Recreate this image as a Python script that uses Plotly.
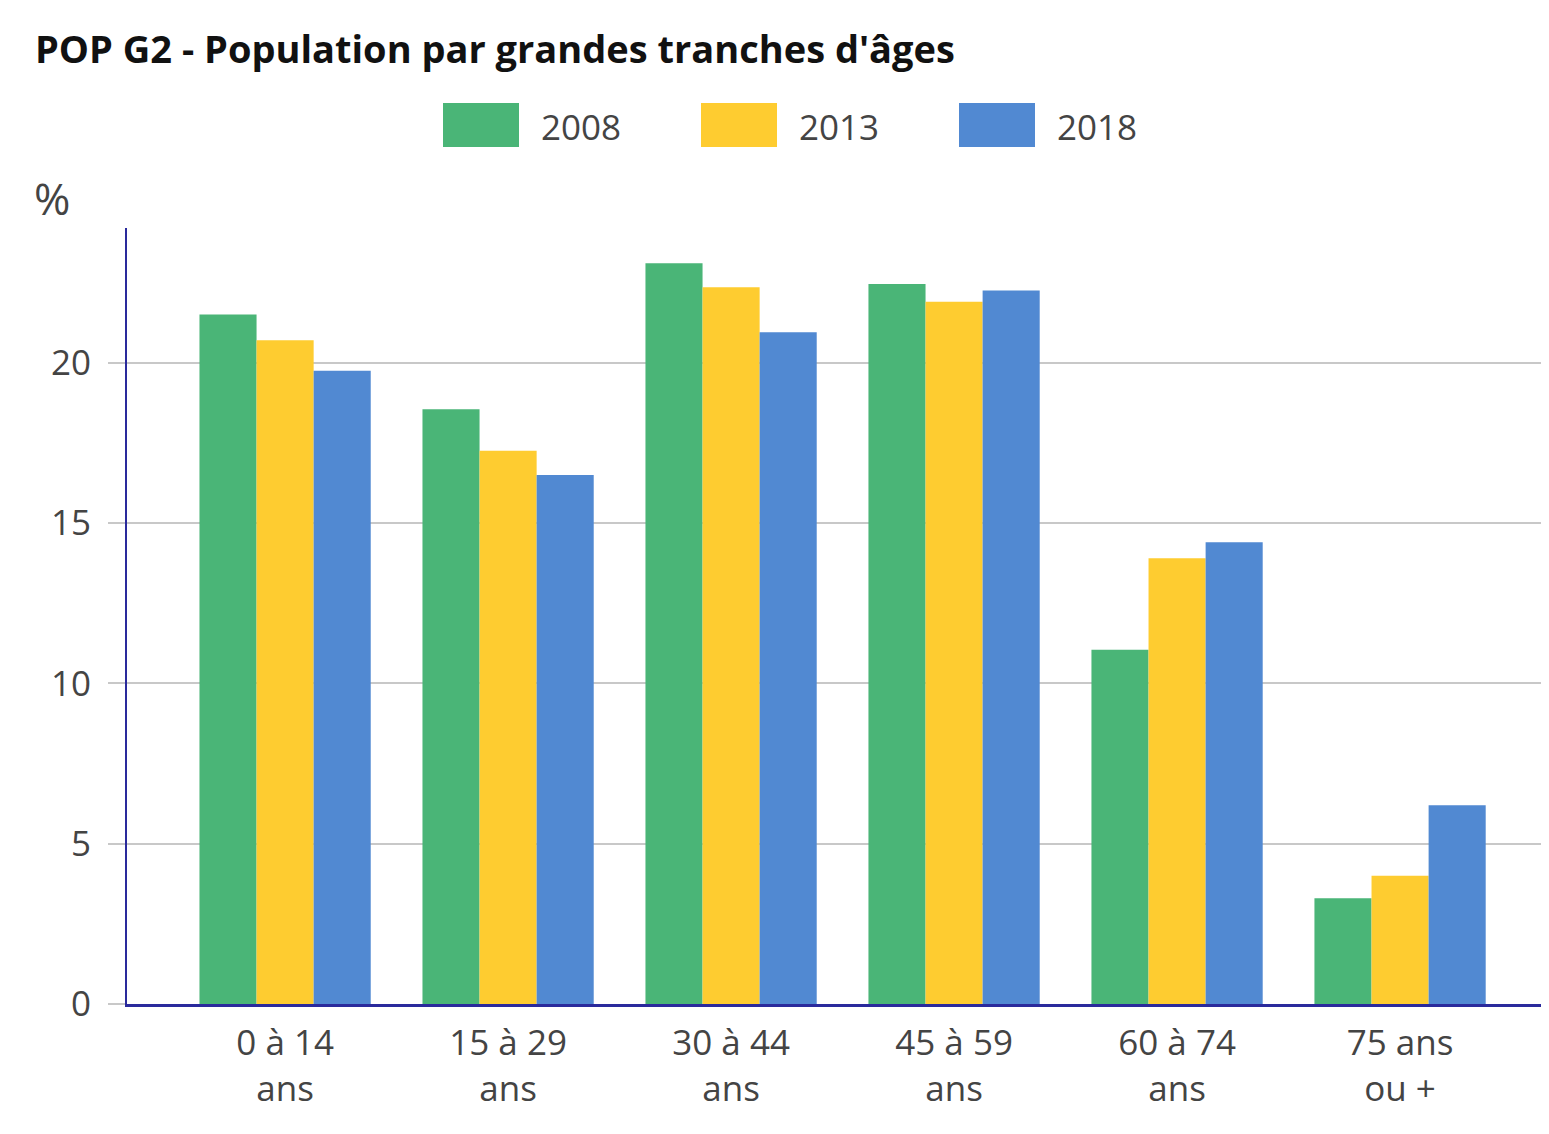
import plotly.graph_objects as go

categories = ["0 à 14<br>ans", "15 à 29<br>ans", "30 à 44<br>ans", "45 à 59<br>ans", "60 à 74<br>ans", "75 ans<br>ou +"]
years = ["2008", "2013", "2018"]
v2008 = [21.5, 18.55, 23.1, 22.45, 11.05, 3.3]
v2013 = [20.7, 17.25, 22.35, 21.9, 13.9, 4.0]
v2018 = [19.75, 16.5, 20.95, 22.25, 14.4, 6.2]
colors = ["#4ab577", "#fecc30", "#5189d2"]
yticks = [0, 5, 10, 15, 20]

OFF = 8  # default page body margin
W, H = 1533, 1118
L, R, T, B = 119, 0, 220, 122
pw, ph = W - L - R, H - T - B

def px_x(x):
    return (x - OFF - L) / pw

def px_y(y):
    return (H - B - (y - OFF)) / ph

FONT = "Open Sans, Noto Sans, sans-serif"
fig = go.Figure()
for name, vals, col in zip(years, [v2008, v2013, v2018], colors):
    fig.add_trace(go.Bar(x=categories, y=vals, name=name, marker_color=col,
                         marker_line_width=0, showlegend=False))

shapes = []
annotations = []
for i, (name, col) in enumerate(zip(years, colors)):
    x0 = 443 + 258 * i
    shapes.append(dict(type="rect", xref="paper", yref="paper",
                       x0=px_x(x0), x1=px_x(x0 + 76), y0=px_y(147), y1=px_y(103),
                       fillcolor=col, line_width=0))
    annotations.append(dict(text=name, xref="paper", yref="paper", x=px_x(x0 + 96), y=px_y(126),
                            xanchor="left", yanchor="middle", showarrow=False,
                            font=dict(family=FONT, size=35, color="#444")))
annotations.append(dict(text="%", xref="paper", yref="paper", x=px_x(32), y=px_y(198),
                        xanchor="left", yanchor="middle", showarrow=False,
                        font=dict(family=FONT, size=44, color="#444")))

fig.update_layout(
    width=W, height=H,
    margin=dict(l=L, r=R, t=T, b=B, pad=0),
    paper_bgcolor="white", plot_bgcolor="white",
    barmode="group", bargap=0.232, bargroupgap=0,
    title=dict(text="<b>POP G2 - Population par grandes tranches d'âges</b>",
               x=(35 - OFF) / W, xanchor="left", y=1 - (50 - OFF) / H, yanchor="middle",
               font=dict(family=FONT, size=38, color="#111")),
    shapes=shapes, annotations=annotations,
    xaxis=dict(type="category", range=[-0.709, 5.632], showline=True, linecolor="#2a2a9c",
               linewidth=3, showgrid=False, ticks="", tickfont=dict(family=FONT, size=35, color="#444"),
               ticklabelstandoff=6, fixedrange=True),
    yaxis=dict(range=[0, 24.2], tickvals=yticks, showline=True, linecolor="#2a2a9c", linewidth=2,
               showgrid=True, gridcolor="#c8c8c8", gridwidth=2, zeroline=False,
               ticks="outside", ticklen=17, tickcolor="#c8c8c8", tickwidth=2,
               tickfont=dict(family=FONT, size=35, color="#444"), ticklabelstandoff=10),
    font=dict(family=FONT),
)

fig.write_html("out.html")
